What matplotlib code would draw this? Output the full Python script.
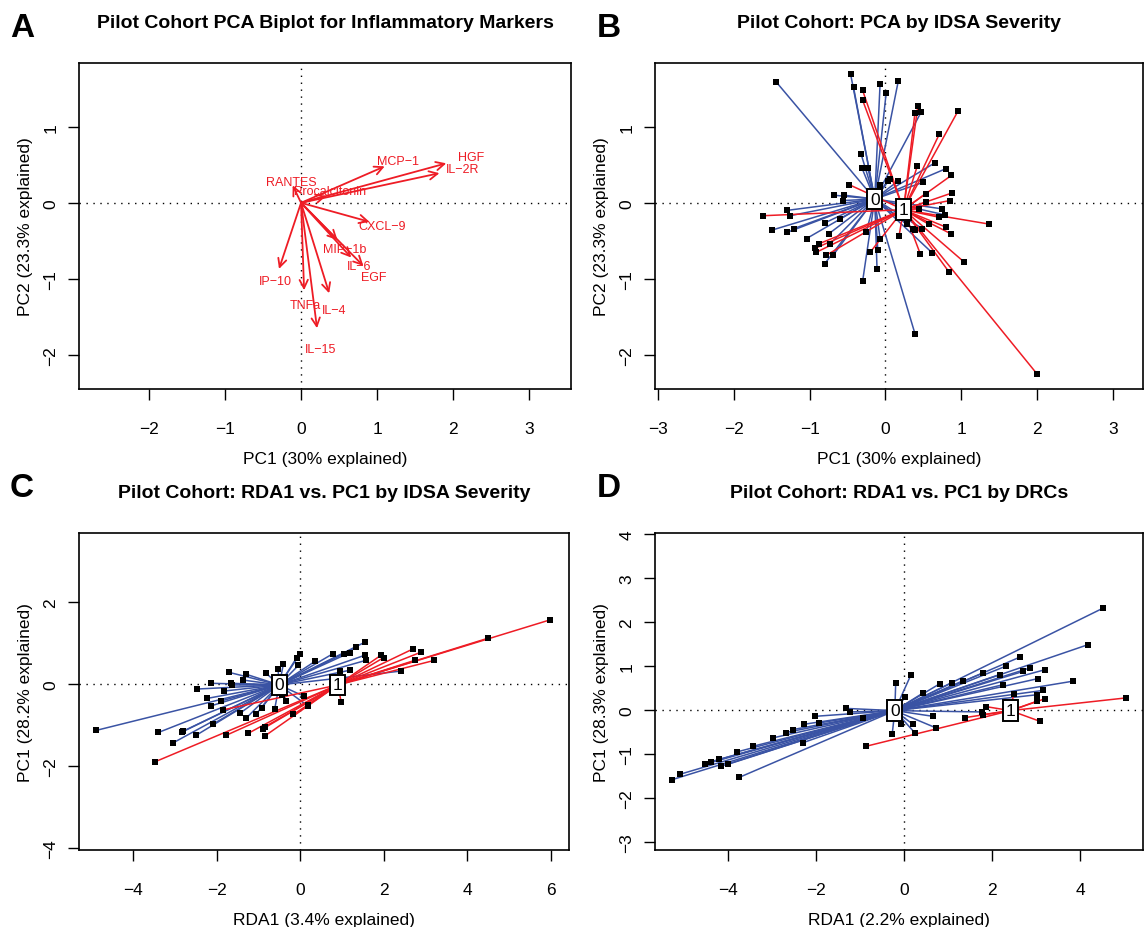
import matplotlib.pyplot as plt

plt.rcParams['font.family'] = ['Liberation Sans', 'DejaVu Sans']

RED = '#EE1C25'
BLUE = '#3A53A4'

# ---- Panel A: biplot loadings (arrow tips and label positions)
var_names = ['HGF', 'IL−2R', 'MCP−1', 'RANTES', 'Procalcitonin', 'CXCL−9', 'MIP−1b',
             'IL−6', 'EGF', 'IP−10', 'TNFa', 'IL−4', 'IL−15']
tip_x = [1.91, 1.82, 1.10, -0.11, 0.33, 0.90, 0.48, 0.66, 0.82, -0.29, 0.04, 0.37, 0.21]
tip_y = [0.52, 0.39, 0.48, 0.23, 0.09, -0.25, -0.49, -0.72, -0.83, -0.87, -1.15, -1.19, -1.65]
lab_x = [2.24, 2.13, 1.27, -0.13, 0.38, 1.07, 0.58, 0.77, 0.96, -0.34, 0.05, 0.43, 0.26]
lab_y = [0.60, 0.44, 0.55, 0.27, 0.15, -0.31, -0.61, -0.83, -0.97, -1.03, -1.34, -1.41, -1.93]

# ---- Panel B: PCA by IDSA severity
b_cx = [-0.14, 0.24]
b_cy = [0.05, -0.09]
b0_x = [-1.44, -0.46, -0.42, -0.07, 0.17, 0.01, 0.47, -0.32, -0.31, -0.23, -0.68, -0.54, -0.56,
        -1.30, -1.26, -1.50, -1.30, -1.21, -1.04, -0.79, -0.75, -0.80, -0.69, -0.60, -0.73,
        -0.30, -0.11, -0.10, -0.07, -0.25, 0.39, 0.62, 0.39, 0.49, 0.79, 0.75, 0.80, 0.66,
        0.50, 0.06, 0.17, -0.07, 0.36, 0.28, 0.03]
b0_y = [1.59, 1.70, 1.52, 1.56, 1.60, 1.44, 1.19, 0.64, 0.46, 0.46, 0.10, 0.10, 0.03,
        -0.10, -0.17, -0.36, -0.39, -0.34, -0.47, -0.26, -0.41, -0.80, -0.69, -0.21, -0.54,
        -1.03, -0.87, -0.62, -0.47, -0.38, -1.72, -0.66, -0.36, -0.34, -0.16, -0.08, 0.45, 0.53,
        0.27, 0.31, 0.29, 0.24, -0.34, -0.28, 0.29]
b1_x = [-0.30, -0.30, -0.48, -1.62, -0.88, -0.93, -0.91, -0.78, -0.20, 2.00, 1.04, 0.84, 0.46,
        0.18, 0.87, 0.80, 0.57, 1.37, 0.71, 0.85, 0.88, 0.53, 0.54, 0.87, 0.42, 0.71, 0.96,
        0.43, 0.39, 0.45]
b1_y = [1.48, 1.35, 0.24, -0.17, -0.54, -0.60, -0.65, -0.69, -0.65, -2.25, -0.78, -0.91, -0.67,
        -0.44, -0.41, -0.32, -0.28, -0.28, -0.19, 0.03, 0.13, 0.12, 0.01, 0.36, 0.48, 0.90, 1.21,
        1.28, 1.18, -0.08]

# ---- Panel C: RDA1 vs PC1 by IDSA severity
c_cx = [-0.50, 0.90]
c_cy = [-0.02, -0.02]
c0_x = [-4.88, -3.39, -3.05, -2.83, -2.49, -2.09, -2.47, -2.13, -1.71, -1.65, -1.83, -2.23, -2.13,
        -1.89, -1.29, -1.37, -0.81, -1.44, -1.29, -1.05, -0.61, -0.53, -0.40, 0.00, -0.08, -0.04,
        0.36, 0.78, 1.04, 1.19, 1.34, 1.56, 1.56, 1.57, 2.42, 0.18, -0.33, -0.92, -0.44, 0.10,
        1.19, -2.80, -1.64]
c0_y = [-1.13, -1.18, -1.44, -1.17, -1.25, -0.98, -0.12, 0.02, 0.29, 0.02, -0.17, -0.35, -0.53,
        -0.41, 0.24, 0.10, 0.26, -0.71, -0.83, -0.73, -0.61, 0.38, 0.50, 0.74, 0.65, 0.46,
        0.56, 0.74, 0.74, 0.77, 0.90, 1.03, 0.71, 0.58, 0.32, -0.53, -0.41, -0.58, -0.26, -0.30,
        0.34, -1.15, -0.02]
c1_x = [5.98, 4.49, 3.21, 2.89, 2.70, 2.74, 1.94, 2.00, -3.48, -1.77, -1.24, -0.85, -0.89, -0.84,
        -1.85, 0.98, -0.16, 0.19, 0.95]
c1_y = [1.57, 1.12, 0.58, 0.78, 0.86, 0.58, 0.71, 0.65, -1.90, -1.25, -1.20, -1.27, -1.09, -1.04,
        -0.63, -0.43, -0.74, -0.50, 0.33]

# ---- Panel D: RDA1 vs PC1 by DRCs
d_cx = [-0.21, 2.42]
d_cy = [-0.01, -0.01]
d0_x = [4.52, 4.18, 2.64, 3.20, 2.86, 2.70, 2.31, 3.05, 3.84, 3.16, 3.01, 1.80, 2.17, 2.25, 1.34,
        1.08, 0.81, 0.43, 0.15, -0.19, 0.02, 0.66, 0.72, 0.24, 0.20, -0.06, -0.27, 1.77, -1.31,
        -1.23, -2.03, -1.93, -2.27, -2.30, -2.69, -2.98, -3.43, -3.80, -3.75, -4.20, -4.38, -4.53,
        -4.15, -4.00, -5.10, -5.27, -2.52, -0.93]
d0_y = [2.32, 1.49, 1.21, 0.92, 0.96, 0.88, 1.00, 0.72, 0.66, 0.45, 0.35, 0.85, 0.81, 0.58, 0.67,
        0.62, 0.60, 0.39, 0.79, 0.62, 0.29, -0.14, -0.40, -0.51, -0.32, -0.32, -0.55, -0.04, 0.04,
        -0.04, -0.14, -0.29, -0.32, -0.74, -0.51, -0.63, -0.82, -0.95, -1.53, -1.12, -1.17, -1.23,
        -1.27, -1.23, -1.46, -1.58, -0.44, -0.17]
d1_x = [5.05, 3.20, 3.01, 2.49, 3.08, 1.87, 1.38, -0.86, 1.80]
d1_y = [0.28, 0.26, 0.20, 0.37, -0.25, 0.08, -0.17, -0.82, -0.10]


fig = plt.figure(figsize=(11.46, 9.28), dpi=100)
W, H = 1146, 928


def box(x0, y0, x1, y1):
    return [x0 / W, (H - y1) / H, (x1 - x0) / W, (y1 - y0) / H]


def style(ax, xlim, ylim, xt, yt, xlabel, ylabel, title):
    ax.set_xlim(xlim)
    ax.set_ylim(ylim)
    ax.axhline(0, color='black', lw=1, ls=(0, (1, 4)), zorder=1)
    ax.axvline(0, color='black', lw=1, ls=(0, (1, 4)), zorder=1)
    ax.set_xticks(xt)
    ax.set_yticks(yt)
    ax.tick_params(length=8, width=1, labelsize=12.5, direction='out')
    ax.tick_params(axis='x', pad=15)
    ax.tick_params(axis='y', pad=7, labelrotation=90)
    for lab in ax.get_yticklabels():
        lab.set_va('center')
    ax.set_xlabel(xlabel, fontsize=12.5, labelpad=10.5)
    ax.set_ylabel(ylabel, fontsize=12.5, labelpad=7)
    ax.set_title(title, fontsize=14, fontweight='bold', pad=26)
    for sp in ax.spines.values():
        sp.set_linewidth(1.2)


def spider(ax, cx, cy, groups):
    colors = [BLUE, RED]
    for g, (xs, ys) in enumerate(groups):
        for x, y in zip(xs, ys):
            ax.plot([cx[g], x], [cy[g], y], color=colors[g], lw=1.1, zorder=2)
    for xs, ys in groups:
        ax.plot(xs, ys, 's', color='black', ms=4.8, mew=0, zorder=3)
    for g in range(2):
        ax.text(cx[g], cy[g], str(g), fontsize=12.5, ha='center', va='center', zorder=5,
                bbox=dict(boxstyle='square,pad=0.16', fc='white', ec='black', lw=1.4))


# A
axA = fig.add_axes(box(79, 64, 571, 390))
style(axA, (-2.92, 3.55), (-2.45, 1.84), [-2, -1, 0, 1, 2, 3], [-2, -1, 0, 1],
      'PC1 (30% explained)', 'PC2 (23.3% explained)',
      'Pilot Cohort PCA Biplot for Inflammatory Markers')
for tx, ty, lx, ly, name in zip(tip_x, tip_y, lab_x, lab_y, var_names):
    axA.annotate('', xy=(tx, ty), xytext=(0, 0),
                 arrowprops=dict(arrowstyle='->,head_length=0.5,head_width=0.25',
                                 color=RED, lw=1.3, shrinkA=0, shrinkB=0, mutation_scale=12))
    axA.text(lx, ly, name, color=RED, fontsize=9, ha='center', va='center')

# B
axB = fig.add_axes(box(655, 64, 1143, 390))
style(axB, (-3.04, 3.40), (-2.45, 1.84), [-3, -2, -1, 0, 1, 2, 3], [-2, -1, 0, 1],
      'PC1 (30% explained)', 'PC2 (23.3% explained)',
      'Pilot Cohort: PCA by IDSA Severity')
spider(axB, b_cx, b_cy, [(b0_x, b0_y), (b1_x, b1_y)])

# C
axC = fig.add_axes(box(79, 534, 569, 851))
style(axC, (-5.29, 6.43), (-4.05, 3.69), [-4, -2, 0, 2, 4, 6], [-4, -2, 0, 2],
      'RDA1 (3.4% explained)', 'PC1 (28.2% explained)',
      'Pilot Cohort: RDA1 vs. PC1 by IDSA Severity')
spider(axC, c_cx, c_cy, [(c0_x, c0_y), (c1_x, c1_y)])

# D
axD = fig.add_axes(box(655, 534, 1143, 851))
style(axD, (-5.66, 5.43), (-3.18, 4.03), [-4, -2, 0, 2, 4], [-3, -2, -1, 0, 1, 2, 3, 4],
      'RDA1 (2.2% explained)', 'PC1 (28.3% explained)',
      'Pilot Cohort: RDA1 vs. PC1 by DRCs')
spider(axD, d_cx, d_cy, [(d0_x, d0_y), (d1_x, d1_y)])

for letter, x, y in [('A', 10, 37), ('B', 597, 37), ('C', 10, 497), ('D', 597, 497)]:
    fig.text(x / W, (H - y) / H, letter, fontsize=24, fontweight='bold', ha='left', va='baseline')

fig.savefig('out.png', dpi=100)
